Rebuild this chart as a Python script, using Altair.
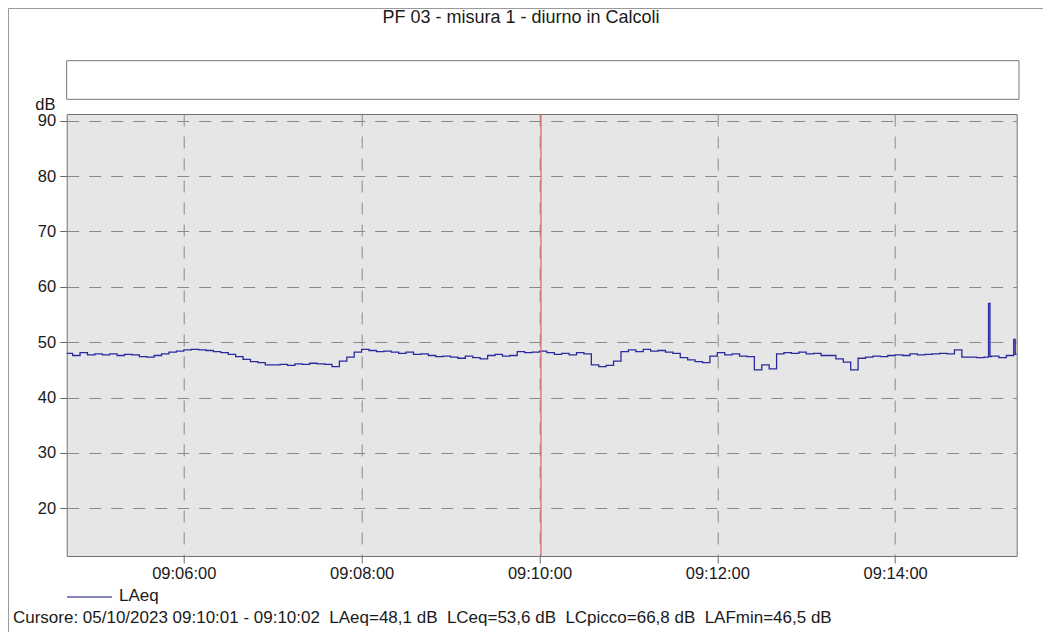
import altair as alt
import pandas as pd

# ---------------- data ----------------
DAY = "2023-10-05"
BASE_START = "09:04:40"
BASE_STEP_S = 5

# LAeq read every 5 s from 09:04:40 to 09:15:20
laeq_5s = [
    48.0, 47.6, 48.1, 47.7,
    47.9, 47.7, 47.9, 47.6, 47.8, 47.7, 47.4, 47.3, 47.6, 47.9, 48.2, 48.4,   # 09:05
    48.6, 48.7, 48.6, 48.5, 48.3, 48.1, 47.8, 47.4, 46.9, 46.5, 46.3, 45.9,   # 09:06
    45.9, 46.0, 45.8, 46.1, 46.0, 46.2, 46.1, 46.0, 45.6, 46.6, 47.3, 48.2,   # 09:07
    48.7, 48.5, 48.3, 48.4, 48.2, 48.0, 48.2, 47.8, 47.9, 47.6, 47.4, 47.5,   # 09:08
    47.3, 47.1, 47.5, 47.2, 47.0, 47.6, 47.8, 47.5, 47.6, 48.3, 48.1, 48.2,   # 09:09
    48.4, 48.1, 47.8, 48.0, 47.7, 48.1, 47.9, 45.9, 45.6, 45.8, 46.6, 48.3,   # 09:10
    48.6, 48.3, 48.7, 48.4, 48.5, 48.2, 48.0, 47.2, 46.8, 46.5, 46.3, 47.5,   # 09:11
    48.1, 47.7, 47.9, 47.5, 47.4, 45.0, 45.9, 45.2, 47.9, 48.1, 48.0, 48.2,   # 09:12
    47.9, 48.0, 47.6, 47.6, 47.0, 46.4, 45.0, 47.1, 47.3, 47.5, 47.4, 47.6,   # 09:13
    47.7, 47.6, 47.9, 47.7, 47.8, 47.9, 48.0, 47.9, 48.6, 47.3, 47.3, 47.2,   # 09:14
    47.3, 47.5, 47.2, 47.6, 47.8,                                             # 09:15
]

# short events (1 s resolution) at the end of the record
event_times = ["09:15:03", "09:15:04", "09:15:20", "09:15:21", "09:15:22"]
event_values = [57.0, 47.4, 50.5, 47.8, 47.8]

x_domain = ["09:04:41", "09:15:22"]
x_tick_times = ["09:06:00", "09:08:00", "09:10:00", "09:12:00", "09:14:00"]
y_domain = [11.4, 91.2]
y_ticks = [20, 30, 40, 50, 60, 70, 80, 90]
cursor_time = ["09:10:01"]

title_text = ["PF 03 - misura 1 - diurno in Calcoli"]
legend_label = ["LAeq"]
cursor_text = ["Cursore: 05/10/2023 09:10:01 - 09:10:02  LAeq=48,1 dB  LCeq=53,6 dB  LCpicco=66,8 dB  LAFmin=46,5 dB"]

# ---------------- build tables ----------------
base_t = pd.date_range(f"{DAY} {BASE_START}", periods=len(laeq_5s), freq=f"{BASE_STEP_S}s")
df = pd.DataFrame({"time": base_t, "LAeq": laeq_5s})
ev = pd.DataFrame({"time": pd.to_datetime([f"{DAY} {t}" for t in event_times]),
                   "LAeq": event_values})
df = pd.concat([df, ev]).drop_duplicates("time", keep="last").sort_values("time").reset_index(drop=True)


def dt(hms):
    h, m, s = [int(v) for v in hms.split(":")]
    return alt.DateTime(year=2023, month=10, date=5, hours=h, minutes=m, seconds=s)


FONT = "Liberation Sans"
LINE_COLOR = "#2a2a9e"
PLOT_W, PLOT_H = 950, 442
PAD_L, PAD_T = 58.7, 106

x_enc = alt.X(
    "time:T",
    scale=alt.Scale(domain=[dt(t) for t in x_domain], nice=False),
    axis=alt.Axis(
        values=[dt(t) for t in x_tick_times], format="%H:%M:%S", title=None,
        grid=True, gridDash=[12, 10], gridColor="#8a8a8a", gridWidth=1,
        domain=False, tickSize=7, tickColor="#666666", labelPadding=3,
        labelFont=FONT, labelFontSize=16.5, labelColor="#1a1a1a", labelFlush=False,
    ),
)
y_enc = alt.Y(
    "LAeq:Q",
    scale=alt.Scale(domain=y_domain, nice=False, zero=False),
    axis=alt.Axis(
        values=y_ticks, title="dB", titleAngle=0, titleX=-11.7, titleY=-10,
        titleAlign="right", titleBaseline="middle", titleFont=FONT, titleFontSize=16.5,
        titleFontWeight="normal", titleColor="#1a1a1a",
        grid=True, gridDash=[12, 10], gridColor="#8a8a8a", gridWidth=1,
        domain=False, tickSize=7, tickColor="#666666", labelPadding=4,
        labelFont=FONT, labelFontSize=16.5, labelColor="#1a1a1a",
    ),
)

line = alt.Chart(df).mark_line(
    interpolate="step-after", color=LINE_COLOR, strokeWidth=1.3, clip=True
).encode(x=x_enc, y=y_enc)

cursor_df = pd.DataFrame({"time": pd.to_datetime([f"{DAY} {t}" for t in cursor_time])})
cursor = alt.Chart(cursor_df).mark_rule(color="#e06060", strokeWidth=1.2).encode(x="time:T")

one = lambda col, vals: pd.DataFrame({col: vals})

frame = alt.Chart(one("k", [0])).mark_rect(
    fill="transparent", stroke="#9a9a9a", strokeWidth=1
).encode(x=alt.value(-PAD_L + 0.5), x2=alt.value(2000), y=alt.value(-PAD_T + 0.5), y2=alt.value(2000))

box = alt.Chart(one("k", [0])).mark_rect(
    fill="white", stroke="#777777", strokeWidth=1
).encode(x=alt.value(0), x2=alt.value(952.3), y=alt.value(-53.3), y2=alt.value(-14.7))

title = alt.Chart(one("t", title_text)).mark_text(
    font=FONT, fontSize=18, color="#1a1a1a", align="center", baseline="middle"
).encode(text="t:N", x=alt.value(454.3), y=alt.value(-96))

leg_line = alt.Chart(one("k", [0])).mark_rule(color="#5a5aa8", strokeWidth=1.3).encode(
    x=alt.value(0.3), x2=alt.value(45.3), y=alt.value(483))
leg_text = alt.Chart(one("t", legend_label)).mark_text(
    font=FONT, fontSize=17, color="#1a1a1a", align="left", baseline="middle"
).encode(text="t:N", x=alt.value(52.3), y=alt.value(482))

cur_text = alt.Chart(one("t", [s.replace("  ", " \u00a0") for s in cursor_text])).mark_text(
    font=FONT, fontSize=17, color="#1a1a1a", align="left", baseline="middle"
).encode(text="t:N", x=alt.value(-53.7), y=alt.value(504))

chart = alt.layer(frame, box, title, line, cursor, leg_line, leg_text, cur_text).properties(
    width=PLOT_W, height=PLOT_H,
    autosize=alt.AutoSizeParams(type="none"),
    padding={"left": PAD_L, "top": PAD_T, "right": 26, "bottom": 76},
    background="white",
).configure_view(fill="#e6e6e6", stroke="#707070", strokeWidth=1)

chart.save("out.html", embed_options={"renderer": "svg", "actions": False})
